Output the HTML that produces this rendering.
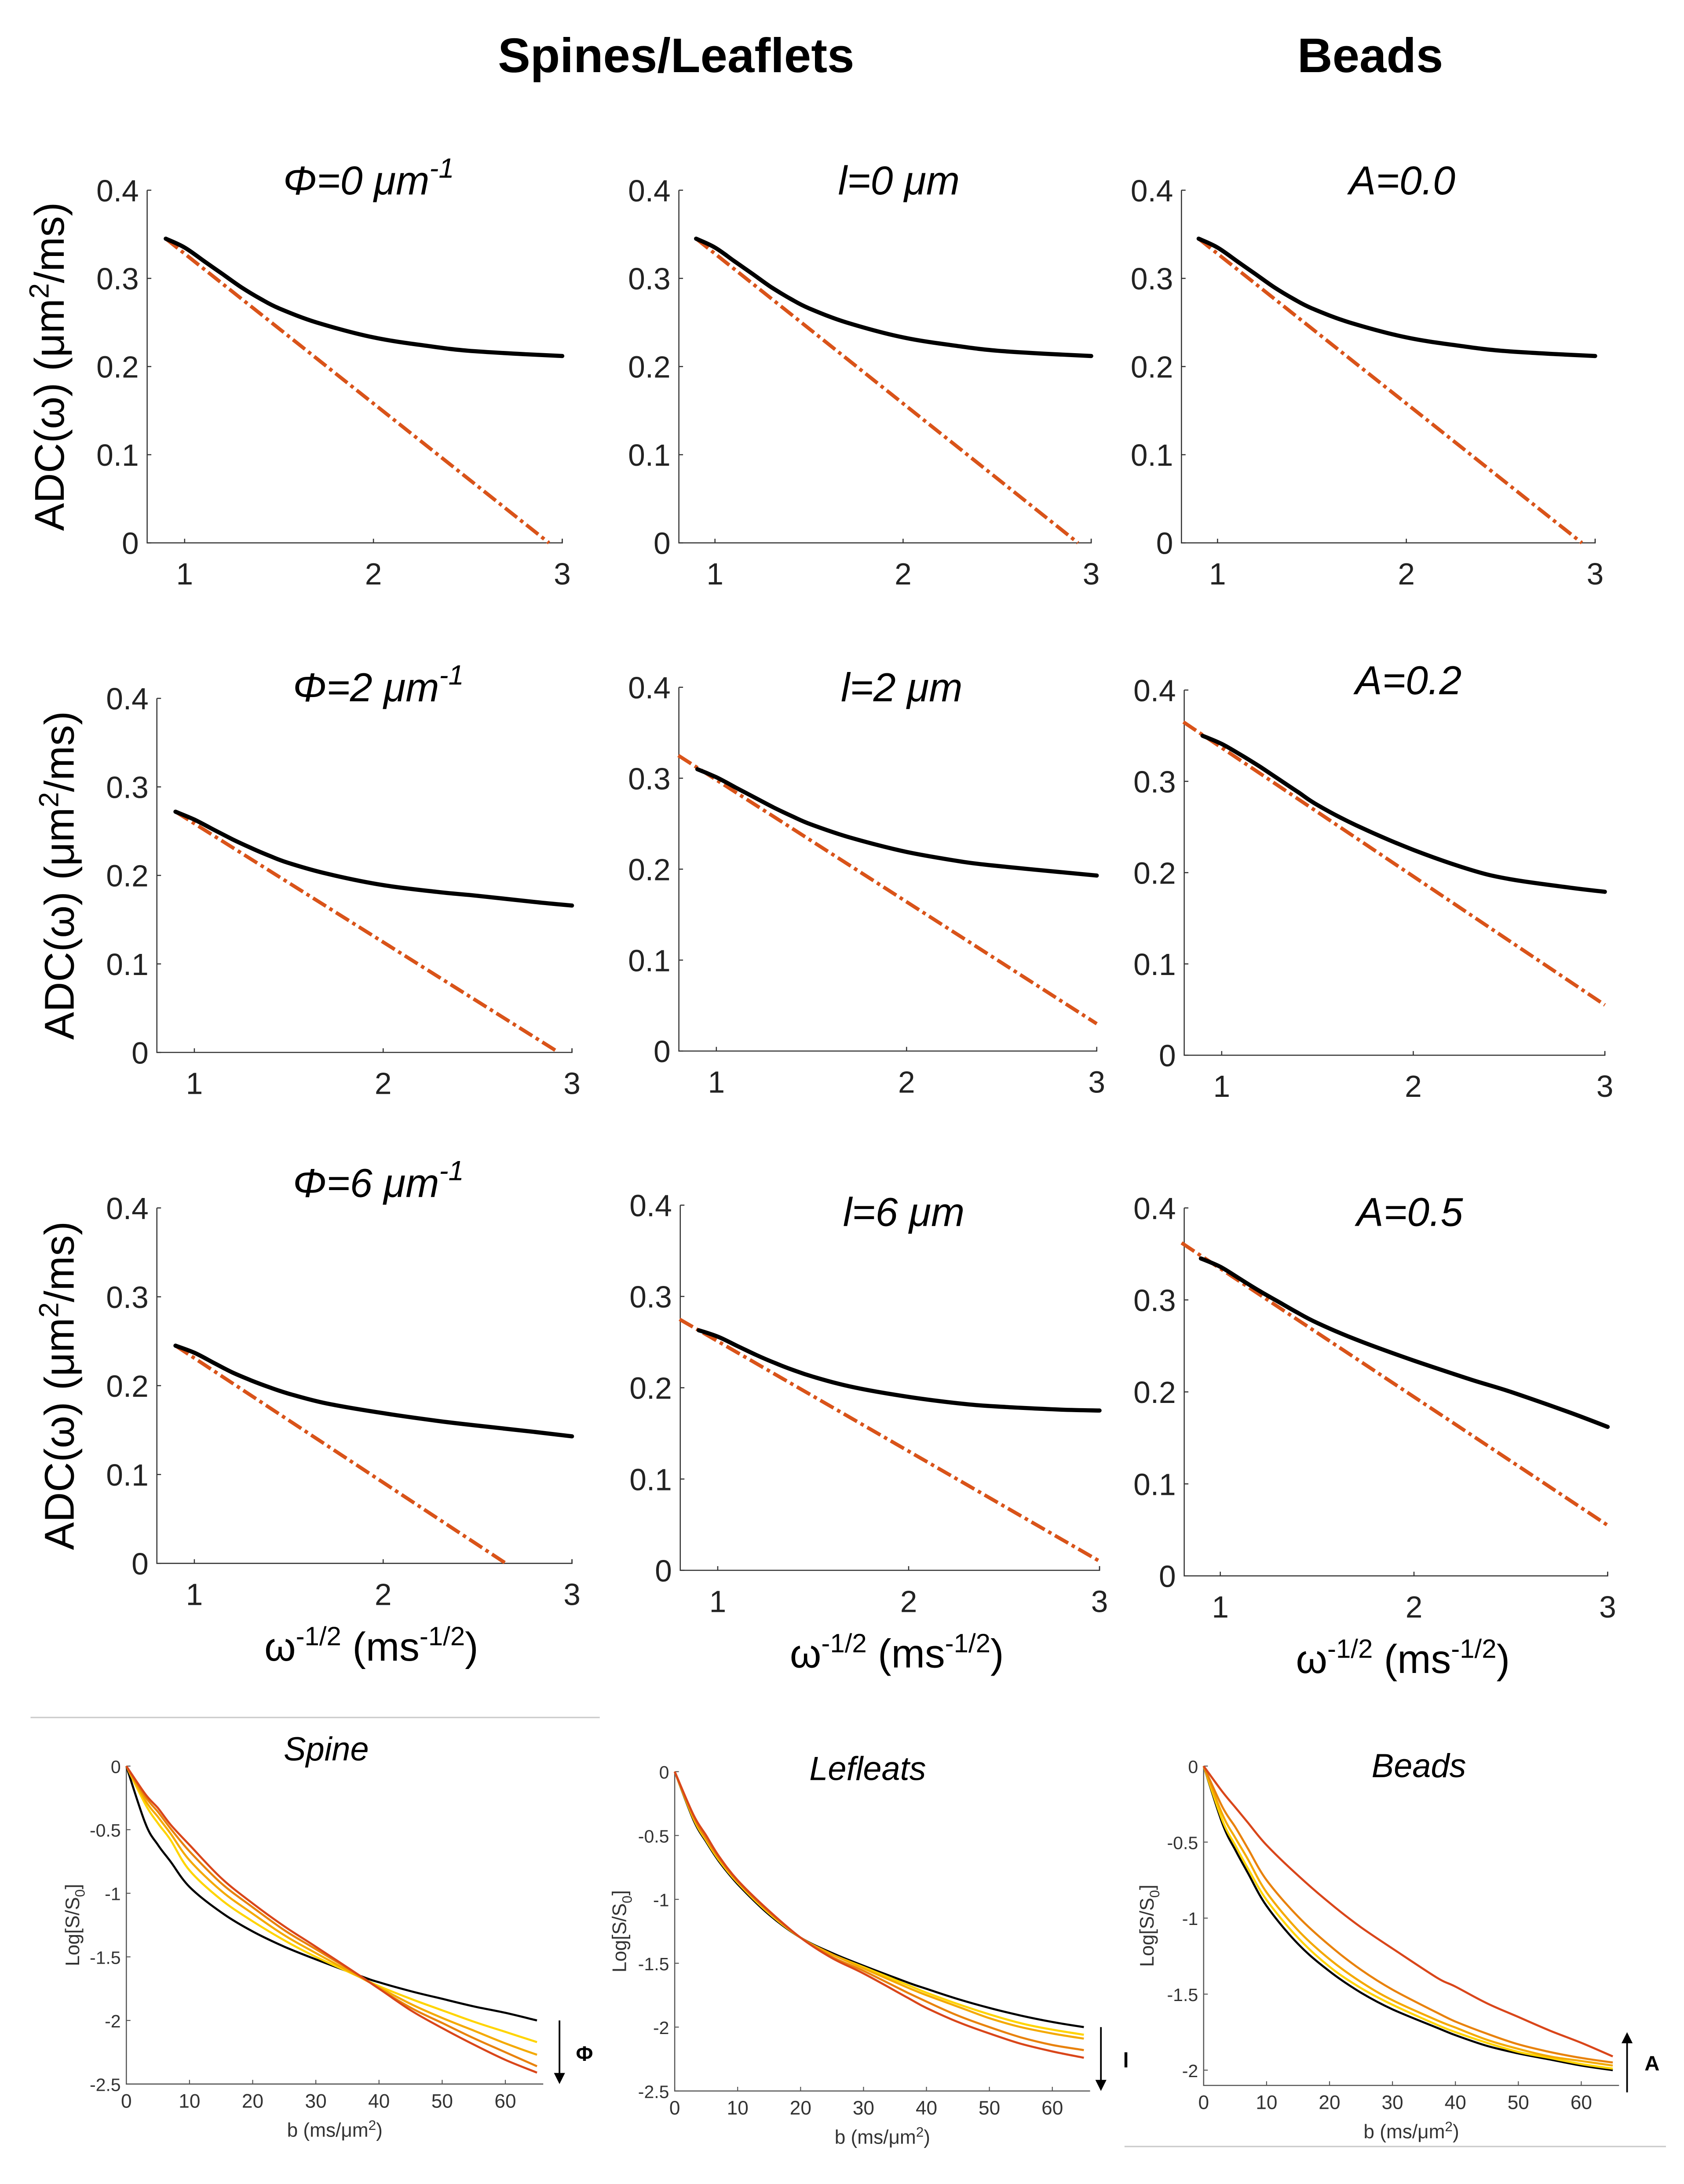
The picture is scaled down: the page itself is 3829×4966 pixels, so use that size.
<!DOCTYPE html>
<html><head><meta charset="utf-8"><style>
html,body{margin:0;padding:0;background:#fff}
svg{display:block}
text{font-family:"Liberation Sans",sans-serif}
</style></head><body>
<svg id="fig" xmlns="http://www.w3.org/2000/svg" width="3829" height="4966" viewBox="0 0 1213 1573" preserveAspectRatio="none">
<rect width="1213" height="1573" fill="#fff"/>
<text x="487" y="52" font-size="35" font-weight="bold" text-anchor="middle">Spines/Leaflets</text>
<text x="987" y="52" font-size="35" font-weight="bold" text-anchor="middle">Beads</text>
<line x1="22" y1="1237" x2="432" y2="1237" stroke="#ccc" stroke-width="1"/>
<line x1="810" y1="1546" x2="1200" y2="1546" stroke="#ccc" stroke-width="1"/>
<g id="plots"></g>
</svg>
<script>
// ---- ADC panels data ----
const adcX = [0.9, 1.0, 1.1, 1.2, 1.3, 1.4, 1.5, 1.7, 2.0, 2.3, 2.5, 2.8, 3.0];
const adcBlack = [
 [0.345,0.335,0.320,0.305,0.290,0.277,0.266,0.250,0.233,0.223,0.218,0.214,0.212],
 [0.345,0.335,0.320,0.305,0.290,0.277,0.266,0.250,0.233,0.223,0.218,0.214,0.212],
 [0.345,0.335,0.320,0.305,0.290,0.277,0.266,0.250,0.233,0.223,0.218,0.214,0.212],
 [0.272,0.263,0.252,0.241,0.231,0.222,0.214,0.202,0.189,0.181,0.177,0.170,0.166],
 [0.310,0.301,0.290,0.279,0.268,0.258,0.249,0.235,0.219,0.208,0.203,0.197,0.193],
 [0.350,0.341,0.329,0.316,0.302,0.288,0.274,0.252,0.225,0.203,0.193,0.184,0.179],
 [0.245,0.237,0.226,0.215,0.206,0.198,0.191,0.180,0.169,0.160,0.155,0.148,0.143],
 [0.263,0.256,0.246,0.236,0.227,0.219,0.212,0.201,0.190,0.182,0.179,0.176,0.175],
 [0.345,0.336,0.323,0.310,0.298,0.286,0.275,0.257,0.234,0.213,0.200,0.178,0.162]
];
const adcRedStartX = [0.9,0.9,0.9,0.9,0.8,0.8,0.9,0.8,0.8];
const adcRedStartY = [0.345,0.345,0.345,0.272,0.325,0.365,0.245,0.275,0.362];
const adcRedEndX = [2.93,2.93,2.93,2.93,3.0,3.0,2.65,3.0,3.0];
const adcRedEndY = [0,0,0,0,0.03,0.055,0,0.01,0.055];
const adcYTicks = [0,0.1,0.2,0.3,0.4];
const adcYTickLabels = ["0","0.1","0.2","0.3","0.4"];
const adcXTicks = [1,2,3];
const adcTitles = [["Φ=0 μm","-1"],["l=0 μm",""],["A=0.0",""],["Φ=2 μm","-1"],["l=2 μm",""],["A=0.2",""],["Φ=6 μm","-1"],["l=6 μm",""],["A=0.5",""]];
// layout (pixel frames, not data)
const adcFrames = [
 {x0:106,x1:133,x3:405,y0:391,y4:137,ty:140},
 {x0:489,x1:515,x3:786,y0:391,y4:137,ty:140},
 {x0:851,x1:877,x3:1149,y0:391,y4:137,ty:140},
 {x0:113,x1:140,x3:412,y0:758,y4:503,ty:505},
 {x0:489,x1:516,x3:790,y0:757,y4:495,ty:505},
 {x0:853,x1:880,x3:1156,y0:760,y4:497,ty:500},
 {x0:113,x1:140,x3:412,y0:1126,y4:870,ty:862},
 {x0:490,x1:517,x3:792,y0:1131,y4:868,ty:883},
 {x0:853,x1:879,x3:1158,y0:1135,y4:870,ty:883}
];
// ---- signal decay panels data ----
const bVals = [0,3,5,7,10,15,20,25,30,37,40,45,50,55,60,65];
const spineSeries = [
 [0,-0.45,-0.62,-0.75,-0.95,-1.15,-1.30,-1.42,-1.52,-1.65,-1.70,-1.77,-1.83,-1.89,-1.94,-2.00],
 [0,-0.30,-0.45,-0.58,-0.82,-1.05,-1.22,-1.37,-1.50,-1.66,-1.73,-1.83,-1.92,-2.01,-2.09,-2.17],
 [0,-0.27,-0.40,-0.53,-0.74,-0.98,-1.16,-1.33,-1.47,-1.66,-1.74,-1.87,-1.98,-2.08,-2.18,-2.27],
 [0,-0.24,-0.36,-0.49,-0.67,-0.92,-1.11,-1.29,-1.44,-1.65,-1.75,-1.90,-2.02,-2.14,-2.25,-2.36],
 [0,-0.22,-0.33,-0.46,-0.62,-0.88,-1.08,-1.26,-1.42,-1.65,-1.75,-1.92,-2.06,-2.19,-2.31,-2.41]
];
const leafSeries = [
 [0,-0.38,-0.55,-0.70,-0.88,-1.12,-1.30,-1.42,-1.52,-1.65,-1.70,-1.78,-1.85,-1.91,-1.96,-2.00],
 [0,-0.37,-0.54,-0.69,-0.87,-1.11,-1.30,-1.43,-1.53,-1.67,-1.73,-1.82,-1.90,-1.97,-2.02,-2.06],
 [0,-0.36,-0.53,-0.68,-0.86,-1.10,-1.30,-1.43,-1.54,-1.69,-1.75,-1.84,-1.93,-2.00,-2.05,-2.09],
 [0,-0.35,-0.52,-0.67,-0.86,-1.10,-1.30,-1.45,-1.56,-1.73,-1.80,-1.91,-2.00,-2.08,-2.14,-2.18],
 [0,-0.34,-0.50,-0.66,-0.85,-1.09,-1.30,-1.46,-1.58,-1.77,-1.85,-1.96,-2.05,-2.13,-2.19,-2.24]
];
const beadSeries = [
 [0,-0.38,-0.55,-0.70,-0.92,-1.17,-1.35,-1.49,-1.60,-1.72,-1.77,-1.84,-1.89,-1.93,-1.97,-2.00],
 [0,-0.36,-0.52,-0.67,-0.88,-1.13,-1.32,-1.46,-1.57,-1.70,-1.75,-1.82,-1.88,-1.92,-1.96,-1.99],
 [0,-0.32,-0.47,-0.61,-0.83,-1.08,-1.27,-1.42,-1.54,-1.67,-1.72,-1.80,-1.86,-1.91,-1.94,-1.97],
 [0,-0.27,-0.40,-0.54,-0.75,-0.99,-1.18,-1.34,-1.47,-1.62,-1.68,-1.76,-1.83,-1.88,-1.92,-1.95],
 [0,-0.17,-0.27,-0.37,-0.52,-0.72,-0.90,-1.06,-1.20,-1.39,-1.45,-1.56,-1.65,-1.74,-1.82,-1.91]
];
const seriesColors = ["#000000","#FFD400","#F4A900","#E8820C","#D9461A"];
const bTicks = [0,10,20,30,40,50,60];
const spineYTicks = [0,-0.5,-1,-1.5,-2,-2.5];
const beadYTicks = [0,-0.5,-1,-1.5,-2];
const decayFrames = [
 {x0:91,x60:364,y0:1272,yMin:-2.5,yMinPx:1501,axBottom:1501,title:"Spine",titleX:235,titleY:1268,arrowX:403,arrowLab:"Φ",dir:1,yl:52},
 {x0:486,x60:758,y0:1276,yMin:-2.5,yMinPx:1506,axBottom:1506,title:"Lefleats",titleX:625,titleY:1282,arrowX:793,arrowLab:"l",dir:1,yl:446},
 {x0:867,x60:1139,y0:1272,yMin:-2,yMinPx:1491,axBottom:1502,title:"Beads",titleX:1022,titleY:1280,arrowX:1172,arrowLab:"A",dir:-1,yl:826}
];
const NS="http://www.w3.org/2000/svg";
const root=document.getElementById('plots');
function mk(tag,attrs,parent){const e=document.createElementNS(NS,tag);for(const k in attrs)e.setAttribute(k,attrs[k]);(parent||root).appendChild(e);return e;}
function smooth(pts){
  let d='M'+pts[0][0].toFixed(1)+','+pts[0][1].toFixed(1);
  for(let i=0;i<pts.length-1;i++){
    const p0=pts[i-1]||pts[i],p1=pts[i],p2=pts[i+1],p3=pts[i+2]||p2;
    const c1=[p1[0]+(p2[0]-p0[0])/6,p1[1]+(p2[1]-p0[1])/6];
    const c2=[p2[0]-(p3[0]-p1[0])/6,p2[1]-(p3[1]-p1[1])/6];
    d+=` C${c1[0].toFixed(1)},${c1[1].toFixed(1)} ${c2[0].toFixed(1)},${c2[1].toFixed(1)} ${p2[0].toFixed(1)},${p2[1].toFixed(1)}`;
  }
  return d;
}

adcFrames.forEach((f,i)=>{
  const g=mk('g',{});
  
  
  const sx=v=>f.x1+(v-1)*(f.x3-f.x1)/2;
  const sy=v=>f.y0+(v/0.4)*(f.y4-f.y0);
  const ax=mk('path',{d:`M${f.x0},${f.y4} L${f.x0},${f.y0} L${f.x3},${f.y0} L${f.x3},${f.y0-3}`,fill:'none',stroke:'#333','stroke-width':0.8},g);
  
  
  adcYTicks.forEach((t,j)=>{
    mk('line',{x1:f.x0,x2:f.x0+3,y1:sy(t),y2:sy(t),stroke:'#333','stroke-width':0.8},g);
    const tl=mk('text',{x:f.x0-6,y:sy(t)+8,'font-size':22,'text-anchor':'end',fill:'#222'},g);
    
    
    tl.textContent=adcYTickLabels[j];
  });
  adcXTicks.forEach(t=>{
    mk('line',{x1:sx(t),x2:sx(t),y1:f.y0,y2:f.y0-3,stroke:'#333','stroke-width':0.8},g);
    const tl=mk('text',{x:sx(t),y:f.y0+30,'font-size':22,'text-anchor':'middle',fill:'#222'},g);
    
    
    tl.textContent=t;
  });
  const red=mk('line',{x1:sx(adcRedStartX[i]),y1:sy(adcRedStartY[i]),x2:sx(adcRedEndX[i]),y2:sy(adcRedEndY[i]),stroke:'#D95319','stroke-width':2.6,'stroke-dasharray':'11 3 2.5 3'},g);
  
  
  const bl=mk('path',{d:smooth(adcX.map((x,k)=>[sx(x),sy(adcBlack[i][k])])),fill:'none',stroke:'#000','stroke-width':3,'stroke-linejoin':'round','stroke-linecap':'round'},g);
  
  
  const cx=(f.x0+f.x3)/2+10;
  const tt=mk('text',{x:cx,y:f.ty,'font-size':29,'font-style':'italic','text-anchor':'middle'},g);
  
  
  tt.textContent=adcTitles[i][0];
  if(adcTitles[i][1]){const s=mk('tspan',{dy:-12,'font-size':20},tt);s.textContent=adcTitles[i][1];}
  if(i%3===0){
    const yc=(f.y0+f.y4)/2;
    const yl=mk('text',{x:0,y:0,'font-size':30,'text-anchor':'middle',transform:`translate(${f.x0-60},${yc}) rotate(-90)`},g);
    
    
    yl.textContent='ADC(ω)  (μm';
    const s=mk('tspan',{dy:-11,'font-size':20},yl);s.textContent='2';
    const s2=mk('tspan',{dy:11},yl);s2.textContent='/ms)';
  }
  if(i>=6){
    const xl=mk('text',{x:(f.x0+f.x3)/2+5,y:f.y0+70,'font-size':29,'text-anchor':'middle'},g);
    
    
    xl.textContent='ω';
    const a=mk('tspan',{dy:-11,'font-size':19},xl);a.textContent='-1/2';
    const b=mk('tspan',{dy:11},xl);b.textContent=' (ms';
    const c=mk('tspan',{dy:-11,'font-size':19},xl);c.textContent='-1/2';
    const d=mk('tspan',{dy:11},xl);d.textContent=')';
  }
});

[spineSeries,leafSeries,beadSeries].forEach((ser,i)=>{
  const f=decayFrames[i];
  const g=mk('g',{});
  
  
  const sx=v=>f.x0+v*(f.x60-f.x0)/60;
  const sy=v=>f.y0+(v/f.yMin)*(f.yMinPx-f.y0);
  const xEnd=sx(66);
  const ax=mk('path',{d:`M${f.x0},${f.y0} L${f.x0},${f.axBottom} L${xEnd},${f.axBottom}`,fill:'none',stroke:'#555','stroke-width':0.8},g);
  
  
  const yt=i===2?beadYTicks:spineYTicks;
  yt.forEach(t=>{
    mk('line',{x1:f.x0,x2:f.x0+3,y1:sy(t),y2:sy(t),stroke:'#555','stroke-width':0.7},g);
    const tl=mk('text',{x:f.x0-4,y:sy(t)+5,'font-size':13,'text-anchor':'end',fill:'#333'},g);
    
    
    tl.textContent=t;
  });
  bTicks.forEach(t=>{
    mk('line',{x1:sx(t),x2:sx(t),y1:f.axBottom,y2:f.axBottom-3,stroke:'#555','stroke-width':0.7},g);
    const tl=mk('text',{x:sx(t),y:f.axBottom+17,'font-size':14,'text-anchor':'middle',fill:'#333'},g);
    
    
    tl.textContent=t;
  });
  ser.forEach((s,k)=>{
    const p=mk('path',{d:smooth(bVals.map((b,m)=>[sx(b),sy(s[m])])),fill:'none',stroke:seriesColors[k],'stroke-width':1.5},g);
    
    
  });
  const tt=mk('text',{x:f.titleX,y:f.titleY,'font-size':24,'font-style':'italic','text-anchor':'middle'},g);
  
  
  tt.textContent=f.title;
  const yc=(f.y0+f.axBottom)/2;
  const yl=mk('text',{x:0,y:0,'font-size':14,'text-anchor':'middle',fill:'#333',transform:`translate(${f.yl+5},${yc}) rotate(-90)`},g);
  
  
  yl.textContent='Log[S/S';
  const s0=mk('tspan',{dy:4,'font-size':10},yl);s0.textContent='0';
  const s1=mk('tspan',{dy:-4},yl);s1.textContent=']';
  const xl=mk('text',{x:(f.x0+xEnd)/2,y:f.axBottom+38,'font-size':14,'text-anchor':'middle',fill:'#333'},g);
  
  
  xl.textContent='b (ms/μm';
  const x2=mk('tspan',{dy:-5,'font-size':10},xl);x2.textContent='2';
  const x3=mk('tspan',{dy:5},xl);x3.textContent=')';
  const ya=f.dir>0?sy(-2):f.axBottom+5, yb=f.dir>0?f.axBottom:sy(-1.75);
  const ar=mk('line',{x1:f.arrowX,y1:ya,x2:f.arrowX,y2:f.dir>0?yb-7:yb+7,stroke:'#000','stroke-width':1.2},g);
  
  
  const tip=f.dir>0?`M${f.arrowX-4},${yb-8} L${f.arrowX+4},${yb-8} L${f.arrowX},${yb} Z`:`M${f.arrowX-4},${yb+8} L${f.arrowX+4},${yb+8} L${f.arrowX},${yb} Z`;
  const ah=mk('path',{d:tip,fill:'#000'},g);
  
  
  const al=mk('text',{x:f.arrowX+18,y:(ya+yb)/2+6,'font-size':15,'font-weight':'bold','text-anchor':'middle'},g);
  
  
  al.textContent=f.arrowLab;
});
</script>
</body></html>
